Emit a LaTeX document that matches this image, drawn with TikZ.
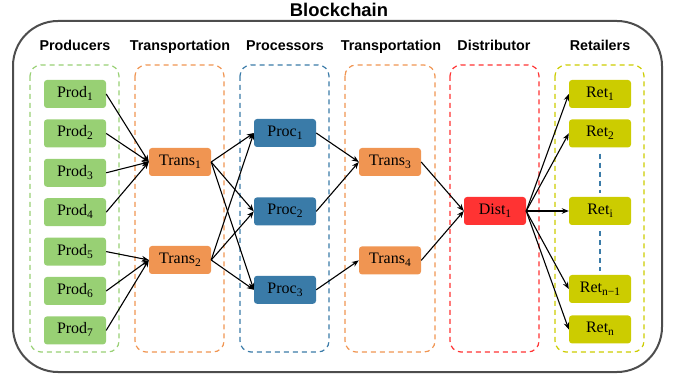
\documentclass[tikz,border=0pt]{standalone}
\usepackage{fontspec}
\setmainfont{Liberation Serif}
\setsansfont{Liberation Sans}
\usetikzlibrary{positioning, arrows.meta}
\definecolor{prodgreen}{HTML}{98D074}
\definecolor{transorange}{HTML}{F09552}
\definecolor{procblue}{HTML}{3A7BA8}
\definecolor{distred}{HTML}{FF3333}
\definecolor{retyellow}{HTML}{CCCC00}
\definecolor{chaingray}{HTML}{4D4D4D}
\newcommand{\lowidx}[1]{\raisebox{-3pt}{\fontsize{11.5}{12}\selectfont #1}}

\begin{document}
\begin{tikzpicture}[x=1pt, y=-1pt, font=\fontsize{16}{18}\selectfont, >={Stealth[length=7pt, width=5.5pt]},
  n/.style={rounded corners=3pt, minimum width=62pt, minimum height=28pt, inner sep=0pt, text height=10.5pt, text depth=3.5pt},
  grp/.style={dash pattern=on 5pt off 4pt, line width=1.2pt, rounded corners=11pt},
  hd/.style={anchor=base, font=\sffamily\bfseries\fontsize{14.3}{16}\selectfont},
  arr/.style={->, line width=1.1pt}]
  \useasboundingbox (0,0) rectangle (678,374);
  % chain frame and groups
  \draw[chaingray, line width=2pt, rounded corners=45pt] (13,21) rectangle (662,372);
  \node[anchor=base, font=\sffamily\bfseries\fontsize{18.4}{20}\selectfont] (title) at (339,16.5) {Blockchain};
  \draw[grp, prodgreen]   (30,65) rectangle (119,352);
  \draw[grp, transorange] (135,65) rectangle (224,352);
  \draw[grp, procblue]    (240,65) rectangle (329,352);
  \draw[grp, transorange] (345,65) rectangle (435,352);
  \draw[grp, distred]     (450,65) rectangle (539,352);
  \draw[grp, retyellow]   (555,65) rectangle (644,352);
  \node[hd] (hprod)  at (75,50.5)  {Producers};
  \node[hd] (htr1)   at (180,50.5) {Transportation};
  \node[hd] (hproc)  at (285,50.5) {Processors};
  \node[hd] (htr2)   at (391,50.5) {Transportation};
  \node[hd] (hdist)  at (494,50.5) {Distributor};
  \node[hd] (hret)   at (600,50.5) {Retailers};
  % producers
  \node[n, fill=prodgreen] (prod1) at (75,94) {Prod\lowidx{1}};
  \node[n, fill=prodgreen, below=11pt of prod1] (prod2) {Prod\lowidx{2}};
  \node[n, fill=prodgreen, below=11pt of prod2] (prod3) {Prod\lowidx{3}};
  \node[n, fill=prodgreen, below=11pt of prod3] (prod4) {Prod\lowidx{4}};
  \node[n, fill=prodgreen, below=11pt of prod4] (prod5) {Prod\lowidx{5}};
  \node[n, fill=prodgreen, below=11pt of prod5] (prod6) {Prod\lowidx{6}};
  \node[n, fill=prodgreen, below=11pt of prod6] (prod7) {Prod\lowidx{7}};
  % transport, processing, distribution
  \node[n, fill=transorange] (trans1) at (180,162) {Trans\lowidx{1}};
  \node[n, fill=transorange] (trans2) at (180,260) {Trans\lowidx{2}};
  \node[n, fill=procblue] (proc1) at (285,133) {Proc\lowidx{1}};
  \node[n, fill=procblue, below=50pt of proc1] (proc2) {Proc\lowidx{2}};
  \node[n, fill=procblue, below=50pt of proc2] (proc3) {Proc\lowidx{3}};
  \node[n, fill=transorange] (trans3) at (390,162) {Trans\lowidx{3}};
  \node[n, fill=transorange, below=70pt of trans3] (trans4) {Trans\lowidx{4}};
  \node[n, fill=distred] (dist1) at (495,211) {Dist\lowidx{1}};
  % retailers
  \node[n, fill=retyellow] (ret1) at (600,94) {Ret\lowidx{1}};
  \node[n, fill=retyellow, below=11pt of ret1] (ret2) {Ret\lowidx{2}};
  \node[n, fill=retyellow] (reti) at (600,211) {Ret\lowidx{i}};
  \node[n, fill=retyellow] (retm) at (600,289) {Ret\lowidx{n−1}};
  \node[n, fill=retyellow, below=12pt of retm] (retn) {Ret\lowidx{n}};
  \draw[procblue, line width=1.2pt, dash pattern=on 5pt off 4pt, shorten <=6pt, shorten >=4pt] (ret2) -- (reti);
  \draw[procblue, line width=1.2pt, dash pattern=on 5pt off 4pt, shorten <=6pt, shorten >=4pt] (reti) -- (retm);
  % flows
  \foreach \p in {prod1, prod2, prod3, prod4}
    \draw[arr] (\p.east) -- (trans1.west);
  \foreach \p in {prod5, prod6, prod7}
    \draw[arr] (\p.east) -- (trans2.west);
  \foreach \t in {trans1, trans2}
    \foreach \q in {proc1, proc2, proc3}
      \draw[arr] (\t.east) -- (\q.west);
  \draw[arr] (proc1.east) -- (trans3.west);
  \draw[arr] (proc2.east) -- (trans3.west);
  \draw[arr] (proc3.east) -- (trans4.west);
  \draw[arr] (trans3.east) -- (dist1.west);
  \draw[arr] (trans4.east) -- (dist1.west);
  \foreach \r in {ret1, ret2, reti, retm, retn}
    \draw[arr] (dist1.east) -- (\r.west);
\end{tikzpicture}
\end{document}
